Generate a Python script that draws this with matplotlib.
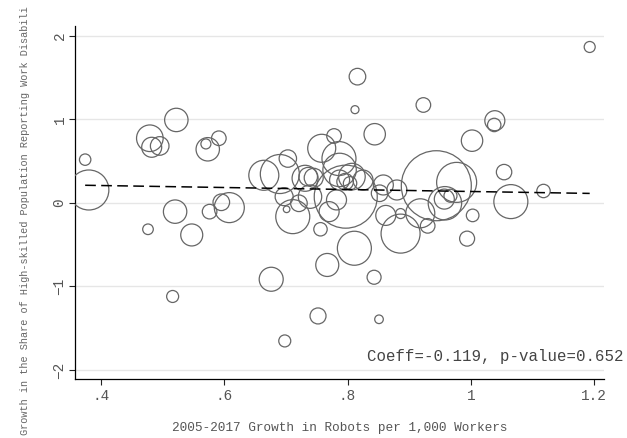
import numpy as np
import matplotlib
matplotlib.use("Agg")
from matplotlib import pyplot as plt

# robots growth (x), disability share growth (y), marker radius in px (weight)
robots = [0.374, 0.380, 0.479, 0.482, 0.495, 0.522, 0.573, 0.570, 0.591, 0.476,
          0.520, 0.547, 0.576, 0.595, 0.608, 0.516, 0.664, 0.690, 0.703, 0.697,
          0.701, 0.711, 0.721, 0.731, 0.739, 0.756, 0.770, 0.782, 0.758, 0.778,
          0.786, 0.787, 0.807, 0.787, 0.796, 0.804, 0.797, 0.825, 0.816, 0.812,
          0.844, 0.858, 0.852, 0.880, 0.862, 0.886, 0.886, 0.918, 0.930, 0.923,
          0.944, 0.977, 0.958, 0.957, 0.967, 1.002, 1.039, 1.038, 1.054, 1.065,
          1.118, 1.003, 0.994, 1.193, 0.676, 0.767, 0.811, 0.843, 0.752, 0.851,
          0.698, 0.736, 0.745]
disab = [0.517, 0.154, 0.773, 0.665, 0.681, 0.992, 0.641, 0.705, 0.773, -0.316,
         -0.105, -0.384, -0.105, 0.007, -0.057, -1.120, 0.330, 0.345, 0.530, 0.074,
         -0.077, -0.165, -0.005, 0.294, 0.074, -0.316, -0.105, 0.035, 0.653, 0.800,
         0.530, 0.394, 0.314, 0.273, 0.253, 0.234, 0.074, 0.273, 1.510, 1.115,
         0.821, 0.214, 0.115, 0.154, -0.150, -0.128, -0.368, -0.125, -0.275, 1.171,
         0.205, 0.245, -0.005, 0.045, 0.085, 0.744, 0.983, 0.932, 0.368, 0.015,
         0.142, -0.150, -0.428, 1.865, -0.914, -0.743, -0.543, -0.890, -1.353, -1.393,
         -1.652, 0.313, 0.300]
radius = [5.7, 20, 13.3, 10, 9.3, 11.7, 11.7, 5, 7.3, 5.3,
          11.7, 11, 7.3, 8.3, 15, 6, 15, 19.5, 8.7, 9,
          3.3, 17, 8.3, 13, 11.7, 6.7, 10, 10, 14, 7.3,
          17, 16.7, 13.3, 10, 8.3, 6.7, 31.5, 10, 8.3, 4,
          10.7, 10, 8.3, 10, 10, 5, 19.5, 14.5, 7.3, 7.3,
          35, 20, 16.7, 10, 6.5, 10.7, 10, 6.7, 7.7, 17,
          6.7, 6.3, 7.5, 5.5, 12, 11.5, 17, 7, 8, 4.3,
          6, 9.3, 9.5]

coeff = -0.119
pvalue = 0.652
fit_intercept = 0.255

xticks = [0.4, 0.6, 0.8, 1.0, 1.2]
xlabels = [".4", ".6", ".8", "1", "1.2"]
yticks = [-2, -1, 0, 1, 2]
ylabels = ["\u22122", "\u22121", "0", "1", "2"]

mono = ["Liberation Mono", "DejaVu Sans Mono"]
grey = "#555555"

fig = plt.figure(figsize=(6.27, 4.38), dpi=100)
ax = fig.add_axes([75.3 / 627, 1 - 379.3 / 438, 529 / 627, 353.3 / 438])

# marker size: diameter in points squared
sizes = (2 * np.array(radius) * 0.72) ** 2
ax.scatter(robots, disab, s=sizes, facecolors="none", edgecolors="#666666",
           linewidths=0.9, zorder=3)

xs = np.array([min(robots), max(robots)])
ax.plot(xs, fit_intercept + coeff * xs, color="black", lw=1.1,
        dashes=(7, 3.5), zorder=4)

ax.text(0.831, -1.84, f"Coeff={coeff}, p-value={pvalue}", family=mono,
        fontsize=11.3, color="#444444", ha="left", va="center", clip_on=False)

ax.set_xlim(0.358, 1.2167)
ax.set_ylim(-2.111, 2.116)
ax.set_xticks(xticks)
ax.set_xticklabels(xlabels, family=mono, fontsize=10.4, color=grey)
ax.set_yticks(yticks)
ax.set_yticklabels(ylabels, family=mono, fontsize=10.4, color=grey,
                   rotation=90, va="center")
ax.tick_params(length=4.3, width=0.8, color="#222222", pad=2)
ax.tick_params(axis="x", pad=3)
ax.grid(axis="y", color="#e6e6e6", lw=1.0, zorder=0)
for side in ["top", "right"]:
    ax.spines[side].set_visible(False)
for side in ["left", "bottom"]:
    ax.spines[side].set_linewidth(0.9)

fig.text(339.8 / 627, 1 - 428.3 / 438, "2005-2017 Growth in Robots per 1,000 Workers",
         family=mono, fontsize=9.2, color=grey, ha="center", va="center")
fig.text(25.5 / 627, 3 / 438,
         "Growth in the Share of High-skilled Population Reporting Work Disabili",
         family=mono, fontsize=7.4, color="#666666", rotation=90,
         ha="center", va="bottom")

fig.savefig("out.png", dpi=100)
